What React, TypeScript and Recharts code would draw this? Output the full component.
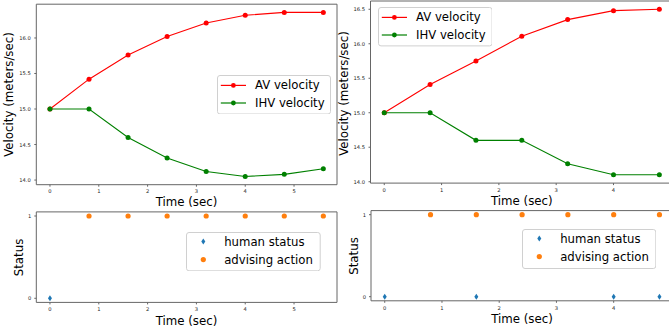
import React from "react";
import {
  LineChart,
  Line,
  ScatterChart,
  Scatter,
  XAxis,
  YAxis,
  Legend,
  ReferenceArea,
} from "recharts";

/* ------------------------------------------------------------------ */
/*  Data                                                               */
/* ------------------------------------------------------------------ */

const TIME_LEFT = [0, 0.8, 1.6, 2.4, 3.2, 4.0, 4.8, 5.6];
const AV_LEFT = [15.0, 15.42, 15.76, 16.02, 16.21, 16.32, 16.36, 16.36];
const IHV_LEFT = [15.0, 15.0, 14.6, 14.31, 14.12, 14.05, 14.08, 14.16];
const HUMAN_LEFT = [0, null, null, null, null, null, null, null];
const ADVISE_LEFT = [null, 1, 1, 1, 1, 1, 1, 1];

const TIME_RIGHT = [0, 0.8, 1.6, 2.4, 3.2, 4.0, 4.8];
const AV_RIGHT = [15.0, 15.41, 15.75, 16.11, 16.35, 16.48, 16.5];
const IHV_RIGHT = [15.0, 15.0, 14.6, 14.6, 14.26, 14.1, 14.1];
const HUMAN_RIGHT = [0, null, 0, null, null, 0, 0];
const ADVISE_RIGHT = [null, 1, 1, 1, 1, 1, 1];

const TIME_TICKS = [0, 1, 2, 3, 4, 5];
const VEL_TICKS_LEFT = [14, 14.5, 15, 15.5, 16];
const VEL_TICKS_RIGHT = [14, 14.5, 15, 15.5, 16, 16.5];
const STATUS_TICKS = [0, 1];

const FONT = '"DejaVu Sans", sans-serif';
const SPINE = "#666";

/* ------------------------------------------------------------------ */
/*  Helpers                                                            */
/* ------------------------------------------------------------------ */

// matplotlib-style 5% auto margin
function pad(values: number[]): [number, number] {
  const lo = Math.min(...values);
  const hi = Math.max(...values);
  const m = (hi - lo) * 0.05;
  return [lo - m, hi + m];
}

function velocityRows(time: number[], av: number[], ihv: number[]) {
  return time.map((t, i) => ({ t, av: av[i], ihv: ihv[i] }));
}

function statusRows(time: number[], vals: (number | null)[]) {
  return time
    .map((t, i) => ({ t, v: vals[i] }))
    .filter((d) => d.v !== null);
}

const YTick = (p: any) => (
  <text
    x={p.x}
    y={p.y}
    textAnchor="end"
    dominantBaseline="central"
    fontSize={5.2}
    fill="#222"
    fontFamily={FONT}
  >
    {p.fmt(p.payload.value)}
  </text>
);

const XTick = (p: any) => (
  <text
    x={p.x}
    y={p.y}
    textAnchor="middle"
    dominantBaseline="hanging"
    fontSize={5.2}
    fill="#222"
    fontFamily={FONT}
  >
    {p.payload.value}
  </text>
);

const AxisTitle = ({ px, py, text, rotate }: any) => (
  <text
    x={px}
    y={py}
    textAnchor="middle"
    dominantBaseline="central"
    fontSize={11.8}
    fill="#000"
    fontFamily={FONT}
    transform={rotate ? `rotate(-90 ${px} ${py})` : undefined}
  >
    {text}
  </text>
);

const Diamond = (p: any) => (
  <path
    d={`M${p.cx},${p.cy - 3} L${p.cx + 2},${p.cy} L${p.cx},${p.cy + 3} L${p.cx - 2},${p.cy} Z`}
    fill="#1f77b4"
  />
);

const Dot = (p: any) => <circle cx={p.cx} cy={p.cy} r={2.6} fill="#ff7f0e" />;

type LegendItem = { label: string; color: string; mark: "line" | "circle" | "diamond" };

function LegendBox({ items, w, h, rows, markX, textX }: any) {
  return (
    <svg width={w} height={h} style={{ display: "block" }}>
      <rect
        x={0.5}
        y={0.5}
        width={w - 1}
        height={h - 1}
        rx={2.5}
        fill="#fff"
        fillOpacity={0.8}
        stroke="#d0d0d0"
      />
      {items.map((it: LegendItem, i: number) => {
        const y = rows[i];
        return (
          <g key={it.label}>
            {it.mark === "line" && (
              <>
                <line x1={markX[0]} x2={markX[1]} y1={y} y2={y} stroke={it.color} strokeWidth={1.2} />
                <circle cx={(markX[0] + markX[1]) / 2} cy={y} r={2.4} fill={it.color} />
              </>
            )}
            {it.mark === "circle" && <Dot cx={markX[0]} cy={y} />}
            {it.mark === "diamond" && <Diamond cx={markX[0]} cy={y} />}
            <text
              x={textX}
              y={y}
              dominantBaseline="central"
              fontSize={11.7}
              fill="#000"
              fontFamily={FONT}
            >
              {it.label}
            </text>
          </g>
        );
      })}
    </svg>
  );
}

const VEL_ITEMS: LegendItem[] = [
  { label: "AV velocity", color: "#ff0000", mark: "line" },
  { label: "IHV velocity", color: "#008000", mark: "line" },
];

const STATUS_ITEMS: LegendItem[] = [
  { label: "human status", color: "#1f77b4", mark: "diamond" },
  { label: "advising action", color: "#ff7f0e", mark: "circle" },
];

/* ------------------------------------------------------------------ */
/*  Panels                                                             */
/* ------------------------------------------------------------------ */

function VelocityPanel({ time, av, ihv, ticks, g }: any) {
  const data = velocityRows(time, av, ihv);
  const xd = pad(time);
  const yd = pad([...av, ...ihv]);
  return (
    <div style={{ position: "absolute", left: g.left, top: g.top }}>
      <LineChart
        width={g.w}
        height={g.h}
        data={data}
        margin={{ top: g.mt, right: g.mr, left: 0, bottom: 0 }}
      >
        <XAxis
          dataKey="t"
          type="number"
          domain={xd}
          ticks={TIME_TICKS}
          allowDataOverflow
          axisLine={false}
          tickLine={{ stroke: SPINE }}
          tickSize={2}
          tickMargin={2.5}
          height={g.xh}
          tick={(p: any) => <XTick {...p} />}
          label={<AxisTitle px={g.xl[0]} py={g.xl[1]} text="Time (sec)" />}
        />
        <YAxis
          type="number"
          domain={yd}
          ticks={ticks}
          allowDataOverflow
          axisLine={false}
          tickLine={{ stroke: SPINE }}
          tickSize={2}
          tickMargin={3.5}
          width={g.yw}
          tick={(p: any) => <YTick {...p} fmt={(v: number) => v.toFixed(1)} />}
          label={<AxisTitle px={g.yl[0]} py={g.yl[1]} text="Velocity (meters/sec)" rotate />}
        />
        <ReferenceArea
          x1={xd[0]}
          x2={xd[1]}
          y1={yd[0]}
          y2={yd[1]}
          fill="none"
          stroke={SPINE}
          strokeWidth={1}
        />
        <Line
          dataKey="av"
          stroke="#ff0000"
          strokeWidth={1.1}
          dot={{ r: 2.5, fill: "#ff0000", stroke: "none" }}
          activeDot={false}
          isAnimationActive={false}
        />
        <Line
          dataKey="ihv"
          stroke="#008000"
          strokeWidth={1.1}
          dot={{ r: 2.5, fill: "#008000", stroke: "none" }}
          activeDot={false}
          isAnimationActive={false}
        />
        <Legend
          layout="vertical"
          align="center"
          verticalAlign="middle"
          wrapperStyle={{ left: g.lg[0], top: g.lg[1], width: g.lg[2], height: g.lg[3] }}
          content={() => (
            <LegendBox
              items={VEL_ITEMS}
              w={g.lg[2]}
              h={g.lg[3]}
              rows={[10.4, 28]}
              markX={[3.8, 29]}
              textX={38}
            />
          )}
        />
      </LineChart>
    </div>
  );
}

function StatusPanel({ time, human, advise, g }: any) {
  const xd = pad(time);
  const yd = pad([0, 1]);
  return (
    <div style={{ position: "absolute", left: g.left, top: g.top }}>
      <ScatterChart
        width={g.w}
        height={g.h}
        margin={{ top: g.mt, right: g.mr, left: 0, bottom: 0 }}
      >
        <XAxis
          dataKey="t"
          type="number"
          domain={xd}
          ticks={TIME_TICKS}
          allowDataOverflow
          axisLine={false}
          tickLine={{ stroke: SPINE }}
          tickSize={2}
          tickMargin={3}
          height={g.xh}
          tick={(p: any) => <XTick {...p} />}
          label={<AxisTitle px={g.xl[0]} py={g.xl[1]} text="Time (sec)" />}
        />
        <YAxis
          dataKey="v"
          type="number"
          domain={yd}
          ticks={STATUS_TICKS}
          allowDataOverflow
          axisLine={false}
          tickLine={{ stroke: SPINE }}
          tickSize={2}
          tickMargin={3}
          width={g.yw}
          tick={(p: any) => <YTick {...p} fmt={(v: number) => String(v)} />}
          label={<AxisTitle px={g.yl[0]} py={g.yl[1]} text="Status" rotate />}
        />
        <ReferenceArea
          x1={xd[0]}
          x2={xd[1]}
          y1={yd[0]}
          y2={yd[1]}
          fill="none"
          stroke={SPINE}
          strokeWidth={1}
        />
        <Scatter
          name="human status"
          data={statusRows(time, human)}
          shape={(p: any) => <Diamond cx={p.cx} cy={p.cy} />}
          isAnimationActive={false}
        />
        <Scatter
          name="advising action"
          data={statusRows(time, advise)}
          shape={(p: any) => <Dot cx={p.cx} cy={p.cy} />}
          isAnimationActive={false}
        />
        <Legend
          layout="vertical"
          align="center"
          verticalAlign="middle"
          wrapperStyle={{ left: g.lg[0], top: g.lg[1], width: g.lg[2], height: g.lg[3] }}
          content={() => (
            <LegendBox
              items={STATUS_ITEMS}
              w={g.lg[2]}
              h={g.lg[3]}
              rows={[9.6, 27.6]}
              markX={[17.3]}
              textX={38.2}
            />
          )}
        />
      </ScatterChart>
    </div>
  );
}

/* ------------------------------------------------------------------ */
/*  Layout                                                             */
/* ------------------------------------------------------------------ */

const TL = {
  left: 0, top: 0, w: 340, h: 212, mt: 4.2, mr: 3, yw: 36.3, xh: 27.3,
  xl: [186.5, 202], yl: [9, 94.5], lg: [216.5, 74.5, 114, 39.5],
};
const TR = {
  left: 330, top: 0, w: 345, h: 212, mt: 1, mr: 1.9, yw: 40.5, xh: 28.9,
  xl: [191.8, 201], yl: [14, 93.5], lg: [47.7, 7.3, 114.6, 39.4],
};
const BL = {
  left: 0, top: 200, w: 340, h: 133, mt: 11.9, mr: 3, yw: 36.3, xh: 30.6,
  xl: [186.5, 120.5], yl: [19, 57.5], lg: [186, 31.7, 134.7, 39.3],
};
const BR = {
  left: 330, top: 200, w: 345, h: 133, mt: 10.6, mr: 1.8, yw: 41, xh: 32.2,
  xl: [192, 118.5], yl: [23.5, 56], lg: [191.7, 29.3, 134.3, 40],
};

export default function App() {
  return (
    <div
      style={{
        position: "fixed",
        left: 0,
        top: 0,
        width: 669,
        height: 333,
        overflow: "hidden",
        background: "#fff",
        fontFamily: FONT,
      }}
    >
      <VelocityPanel time={TIME_LEFT} av={AV_LEFT} ihv={IHV_LEFT} ticks={VEL_TICKS_LEFT} g={TL} />
      <VelocityPanel time={TIME_RIGHT} av={AV_RIGHT} ihv={IHV_RIGHT} ticks={VEL_TICKS_RIGHT} g={TR} />
      <StatusPanel time={TIME_LEFT} human={HUMAN_LEFT} advise={ADVISE_LEFT} g={BL} />
      <StatusPanel time={TIME_RIGHT} human={HUMAN_RIGHT} advise={ADVISE_RIGHT} g={BR} />
    </div>
  );
}
